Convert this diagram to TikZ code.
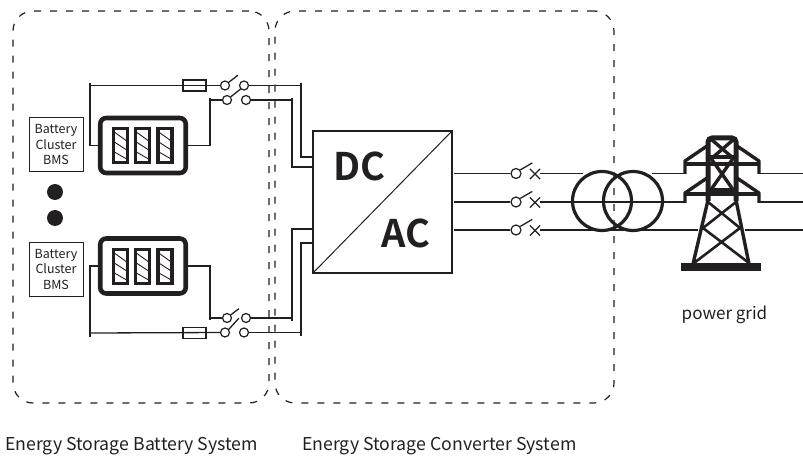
\documentclass[tikz,border=0pt]{standalone}
\usepackage{fontspec}
\setmainfont[BoldFont={Noto Sans CJK SC Bold}]{Noto Sans CJK SC}
\usetikzlibrary{shapes.misc}
\definecolor{ink}{HTML}{231F20}
\tikzset{
  wire/.style={draw=ink,line width=1.3pt},
  contact/.style={circle,draw=ink,line width=1.2pt,fill=white,inner sep=0pt,minimum size=9pt},
  fuse/.style={rectangle,draw=ink,line width=1.1pt,inner sep=0pt,minimum width=23pt,minimum height=11pt},
  breaker/.style={cross out,draw=ink,line width=1.2pt,inner sep=0pt,minimum size=9pt},
  bms/.style={rectangle,draw=ink,line width=1pt,minimum size=54pt,inner sep=0pt,align=center,text=ink,
    font=\fontsize{12.5}{15.5}\selectfont},
  pack/.style={rectangle,draw=ink,line width=4.6pt,rounded corners=6pt,minimum width=85.5pt,minimum height=55pt},
  cell/.style={rectangle,draw=ink,line width=3.3pt,minimum width=14pt,minimum height=34pt,
    path picture={
      \draw[ink,line width=.9pt] (path picture bounding box.north west) ++(0pt,-3pt) -- ++(14pt,-10pt);
      \draw[ink,line width=.9pt] (path picture bounding box.west) ++(0pt,4pt) -- ++(14pt,-9pt);
      \draw[ink,line width=.9pt] (path picture bounding box.west) ++(0pt,-6pt) -- ++(14pt,-8pt);
    }},
  sysbox/.style={rectangle,draw=ink,line width=1.2pt,dash pattern=on 7pt off 9pt,rounded corners=20pt},
  coil/.style={circle,draw=ink,line width=3.2pt,minimum size=59pt,inner sep=0pt},
  mast/.style={draw=ink,line width=3.4pt},
  caption/.style={text=ink,inner sep=0pt,font=\fontsize{17.7}{20}\selectfont},
}
\begin{document}
\begin{tikzpicture}[x=1pt,y=-1pt]
        \useasboundingbox (0,0) rectangle (803,457);

        % battery side
        \node[bms]  (bms1)  at (56,145)    {Battery\\Cluster\\BMS};
        \node[bms]  (bms2)  at (56,269)    {Battery\\Cluster\\BMS};
        \node[pack] (pack1) at (143,145.5) {};
        \node[pack] (pack2) at (143,266)   {};
        \node[cell] (cell1) at (120.5,145.5) {};
        \node[cell] (cell2) at (142.5,145.5) {};
        \node[cell] (cell3) at (165,145.5)   {};
        \node[cell] (cell4) at (120.5,266.5) {};
        \node[cell] (cell5) at (142.5,266.5) {};
        \node[cell] (cell6) at (165,266.5)   {};
        \node[circle,fill=ink,inner sep=0pt,minimum size=16pt] (dot1) at (55,192) {};
        \node[circle,fill=ink,inner sep=0pt,minimum size=16pt] (dot2) at (55,218) {};

        \node[fuse] (fuse1) at (194.5,85.5) {};
        \node[fuse] (fuse2) at (194.5,333)  {};

        \begin{scope}[every node/.style={contact}]
          \node (sw1a) at (225,85.5) {};
          \node (sw1b) at (244,85.5) {};
          \node (sw2a) at (227,100)  {};
          \node (sw2b) at (246,100)  {};
          \node (sw3a) at (227,318)  {};
          \node (sw3b) at (246,318)  {};
          \node (sw4a) at (225,332.5) {};
          \node (sw4b) at (244,332.5) {};
        \end{scope}

        \coordinate (tick1) at (90,83);
        \coordinate (tick2) at (210,98);
        \coordinate (tick3) at (301,83);
        \coordinate (tick4) at (292,98);
        \coordinate (tick5) at (90,337);
        \coordinate (tick6) at (210,320);
        \coordinate (tick7) at (301,336);
        \coordinate (tick8) at (292,321);
        \coordinate (dcin1) at (313,157);
        \coordinate (dcin2) at (313,167);
        \coordinate (dcin3) at (313,229);
        \coordinate (dcin4) at (313,243);

        \draw[wire] (pack1.west) -| (tick1);
        \draw[wire] (tick1 |- fuse1) -- (sw1a);
        \draw[wire] (pack1.east) -| (tick2);
        \draw[wire] (tick2 |- sw2a) -- (sw2a);
        \draw[wire] (pack2.west) -| (tick5);
        \draw[wire] (tick5 |- fuse2) -- (sw4a);
        \draw[wire] (pack2.east) -| (tick6);
        \draw[wire] (tick6 |- sw3a) -- (sw3a);

        \draw[wire] (sw1b) -| (tick3);
        \draw[wire] (tick3) |- (dcin1);
        \draw[wire] (sw2b) -| (tick4);
        \draw[wire] (tick4) |- (dcin2);
        \draw[wire] (sw3b) -| (tick8);
        \draw[wire] (tick8) |- (dcin3);
        \draw[wire] (sw4b) -| (tick7);
        \draw[wire] (tick7) |- (dcin4);

        % switch blades
        \draw[wire] (sw1a.40) -- ++(9,-7);
        \draw[wire] (sw2a.40) -- ++(10,-8);
        \draw[wire] (sw3a.40) -- ++(8,-6);
        \draw[wire] (sw4a.40) -- ++(10,-11);

        % converter
        \node[rectangle,draw=ink,line width=1.3pt,minimum width=139pt,minimum height=142pt] (conv) at (382.5,202) {};
        \draw[ink,line width=1pt] (conv.south west) -- (conv.north east);
        \node[text=ink,inner sep=0pt,font=\fontsize{38}{40}\selectfont\bfseries] (dc) at (359.5,166) {DC};
        \node[text=ink,inner sep=0pt,font=\fontsize{38}{40}\selectfont\bfseries] (ac) at (406,233) {AC};

        % grid side
        \node[contact,minimum size=10pt] (ph1) at (516,173.5) {};
        \node[contact,minimum size=10pt] (ph2) at (516,202)   {};
        \node[contact,minimum size=10pt] (ph3) at (516,230)   {};
        \node[breaker] (br1) at (535,174) {};
        \node[breaker] (br2) at (535,202.5) {};
        \node[breaker] (br3) at (535,230.5) {};
        \node[coil] (coil1) at (602,201) {};
        \node[coil] (coil2) at (633,201) {};

        \coordinate (out1) at (454,173.5);
        \coordinate (out2) at (454,202);
        \coordinate (out3) at (454,230);
        \coordinate (lat1) at (540,173.5);
        \coordinate (lat2) at (540,202);
        \coordinate (lat3) at (540,230);
        \coordinate (mid1) at (583,173.5);
        \coordinate (sec1) at (652,173.5);
        \coordinate (tow1) at (686,173.5);
        \coordinate (tow2) at (686,202);
        \coordinate (tow3) at (698,230);
        \coordinate (lee1) at (759,173.5);
        \coordinate (lee2) at (759,202);
        \coordinate (lee3) at (745,230);
        \coordinate (far1) at (803,173.5);
        \coordinate (far2) at (803,202);
        \coordinate (far3) at (803,230);

        \draw[wire] (out1) -- (ph1);
        \draw[wire] (out2) -- (ph2);
        \draw[wire] (out3) -- (ph3);
        \draw[wire] (lat1) -- (mid1);
        \draw[wire] (sec1) -- (tow1);
        \draw[wire] (lat2) -- (tow2);
        \draw[wire] (lat3) -- (tow3);
        \draw[wire] (lee1) -- (far1);
        \draw[wire] (lee2) -- (far2);
        \draw[wire] (lee3) -- (far3);
        \draw[wire] (ph1.40) -- ++(12,-7);
        \draw[wire] (ph2.40) -- ++(12,-7);
        \draw[wire] (ph3.40) -- ++(12,-7);

        % tower
        \fill[ink] (681,263) rectangle (761,271);
        \draw[mast,line width=5pt,rounded corners=4pt] (708,201) -- (708,138) -- (736,138) -- (736,201);
        \draw[mast] (712,140) -- (733,158);
        \draw[mast] (733,140) -- (712,158);
        \draw[mast] (686,164) -- (758,164);
        \draw[mast] (708,157) -- (736,157);
        \draw[mast] (710,157) -- (734,191);
        \draw[mast] (734,157) -- (710,191);
        \draw[mast] (708,190) -- (736,190);
        \draw[mast,line join=bevel] (707,146) -- (685,161) -- (685,174);
        \draw[mast,line join=bevel] (737,146) -- (759,161) -- (759,174);
        \draw[mast,line join=bevel] (707,178) -- (685,193) -- (685,203);
        \draw[mast,line join=bevel] (737,178) -- (759,193) -- (759,203);
        \draw[mast] (686,194) -- (758,194);
        \draw[mast] (708,200) -- (693,264);
        \draw[mast] (736,200) -- (749,264);
        \draw[mast,line width=2.6pt] (708,202) -- (740,228);
        \draw[mast,line width=2.6pt] (736,202) -- (703,228);
        \draw[mast,line width=2.6pt] (703,228) -- (749,263);
        \draw[mast,line width=2.6pt] (740,228) -- (694,263);

        % system frames
        \node[sysbox,minimum width=256pt,minimum height=392pt] (battsys) at (141,207) {};
        \node[sysbox,minimum width=339pt,minimum height=392pt] (convsys) at (444.5,207) {};

        \node[caption,anchor=base west] (battlabel) at (5,450.5) {Energy Storage Battery System};
        \node[caption,anchor=base west] (convlabel) at (302,450.5) {Energy Storage Converter System};
        \node[caption,anchor=base,font=\fontsize{17}{20}\selectfont] (gridlabel) at (724.5,319) {power grid};

\end{tikzpicture}
\end{document}
